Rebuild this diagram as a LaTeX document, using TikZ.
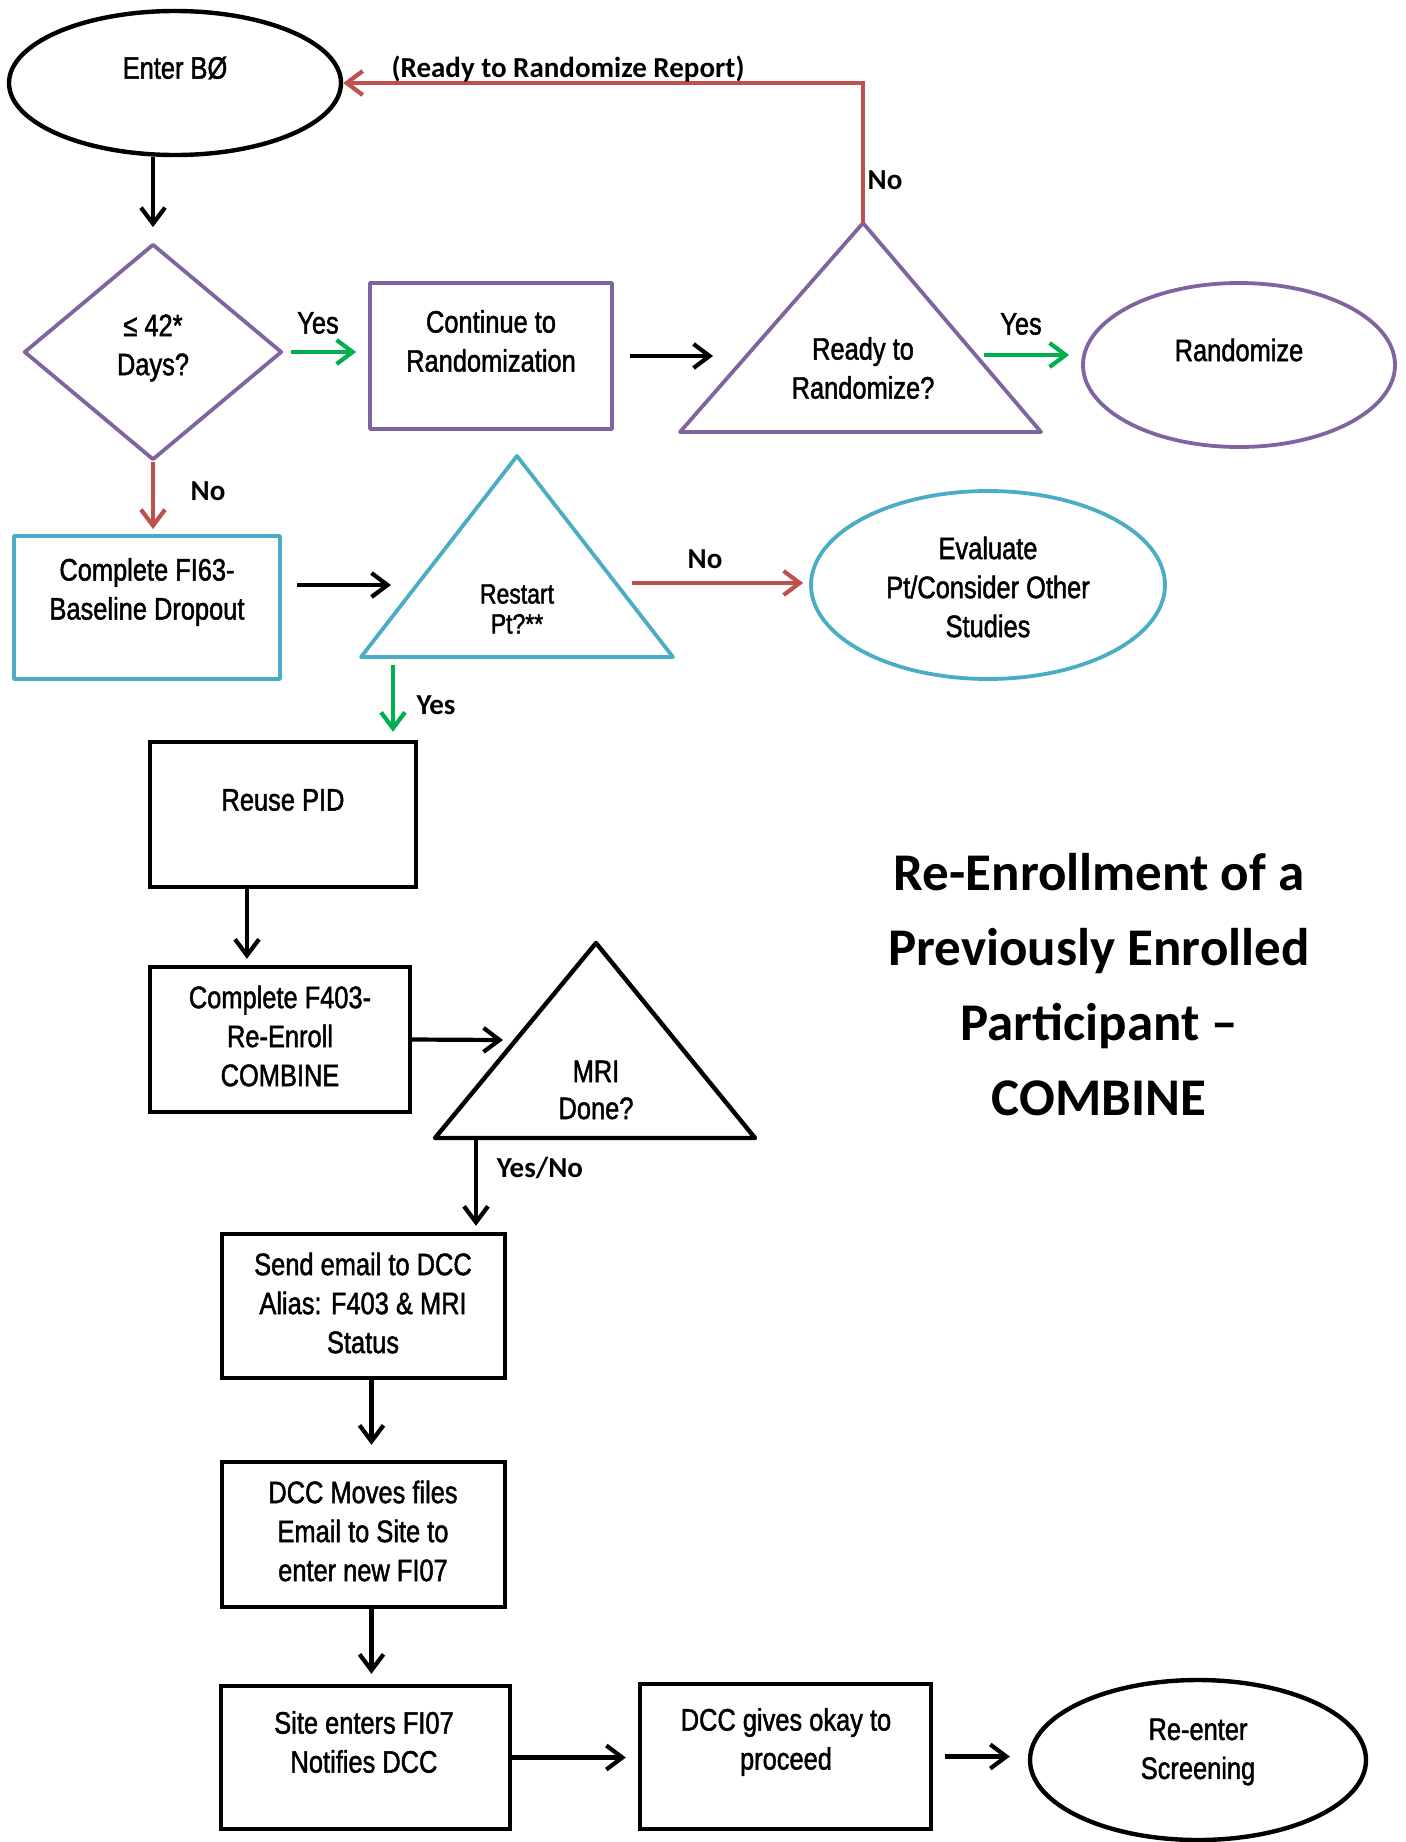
\documentclass[tikz,border=0pt]{standalone}
\usepackage{fontspec}
\setmainfont{Liberation Sans}[FakeStretch=0.82,FakeBold=1.5]
\newfontfamily\lblfont{Carlito}
\usetikzlibrary{shapes.geometric,arrows.meta}
\begin{document}
\begin{tikzpicture}[x=0.5pt,y=-0.5pt,
  blk/.style={draw=black,line width=2.2pt,inner sep=0pt},
  pur/.style={draw=purp,line width=1.9pt,inner sep=0pt,line join=round},
  cyn/.style={draw=cyanedge,line width=1.9pt,inner sep=0pt,line join=round},
  txt/.style={align=center,font=\fontsize{15.5}{19.5}\selectfont},
  lbl/.style={font=\lblfont\bfseries\fontsize{14.5}{16}\selectfont},
  arr/.style={draw=black,line width=2.1pt,-{Straight Barb[length=8pt,width=12pt]}},
  rarr/.style={arr,draw=redarr},
  garr/.style={arr,draw=grnarr}]
  \definecolor{purp}{HTML}{8064A2}
  \definecolor{cyanedge}{HTML}{4BACC6}
  \definecolor{redarr}{HTML}{C0504D}
  \definecolor{grnarr}{HTML}{00B050}
  \useasboundingbox (0,0) rectangle (1406,1842);
  % top row
  \node[blk,ellipse,minimum width=166pt,minimum height=72pt] (enter) at (175,83) {};
  \node[txt] (entertxt) at (175,68) {Enter BØ};
  \node[pur,diamond,minimum width=129pt,minimum height=108pt] (days) at (153,352) {};
  \node[txt] (daystxt) at (153,348) {≤ 42*\\Days?};
  \node[pur,minimum width=121pt,minimum height=73pt] (cont) at (491,356) {};
  \node[txt] (conttxt) at (491,341) {Continue to\\Randomization};
  \draw[pur] (863,223) -- (1041,432) -- (680,432) -- cycle;
  \node[txt] (readytxt) at (863,368) {Ready to\\Randomize?};
  \coordinate (readytop) at (863,223);
  \coordinate (readyin) at (713,356);
  \coordinate (readyout) at (984,355);
  \node[pur,ellipse,minimum width=156pt,minimum height=82pt] (rand) at (1239,365) {};
  \node[txt] (randtxt) at (1239,350) {Randomize};
  % dropout row
  \node[cyn,minimum width=133pt,minimum height=71.5pt] (drop) at (147,607.5) {};
  \node[txt] (droptxt) at (147,592) {Complete FI63-\\Baseline Dropout};
  \draw[cyn] (517,456) -- (673,657) -- (361,657) -- cycle;
  \node[align=center,font=\fontsize{14}{15}\selectfont] (restarttxt) at (517,609) {Restart\\Pt?**};
  \coordinate (restartin) at (391,585);
  \coordinate (restartout) at (632,583);
  \coordinate (restartdown) at (393,665);
  \node[cyn,ellipse,minimum width=177pt,minimum height=94pt] (eval) at (988,585) {};
  \node[txt] (evaltxt) at (988,587) {Evaluate\\Pt/Consider Other\\Studies};
  % re-enrollment column
  \node[blk,minimum width=133pt,minimum height=72.5pt] (reuse) at (283,814.5) {};
  \node[txt] (reusetxt) at (283,800) {Reuse PID};
  \node[blk,minimum width=130pt,minimum height=72.5pt] (reenroll) at (280,1039.5) {};
  \node[txt] (reenrolltxt) at (280,1036) {Complete F403-\\Re-Enroll\\COMBINE};
  \draw[blk,line join=round] (596,943) -- (755,1138) -- (435,1138) -- cycle;
  \node[txt,font=\fontsize{15.5}{18.5}\selectfont] (mritxt) at (596,1090) {MRI\\Done?};
  \coordinate (mriin) at (503,1040);
  \coordinate (mridown) at (476,1139);
  \node[blk,minimum width=141.5pt,minimum height=72pt] (email) at (363.5,1306) {};
  \node[txt] (emailtxt) at (363,1303) {Send email to DCC\\Alias: F403 \& MRI\\Status};
  \node[blk,minimum width=141.5pt,minimum height=72.5pt] (moves) at (363.5,1534.5) {};
  \node[txt] (movestxt) at (363,1531) {DCC Moves files\\Email to Site to\\enter new FI07};
  \node[blk,minimum width=144.5pt,minimum height=71.5pt] (site) at (365.5,1757.5) {};
  \node[txt] (sitetxt) at (364,1742) {Site enters FI07\\Notifies DCC};
  \node[blk,minimum width=145.5pt,minimum height=72.5pt] (okay) at (785.5,1756.5) {};
  \node[txt] (okaytxt) at (786,1742) {DCC gives okay to\\proceed};
  \node[blk,ellipse,minimum width=168pt,minimum height=80pt] (screen) at (1198,1760) {};
  \node[txt] (screentxt) at (1198,1752) {Re-enter\\Screening};
  % title
  \node[align=center,font=\lblfont\bfseries\fontsize{26.5}{37.5}\selectfont] (title) at (1099,985)
    {Re-Enrollment of a\\Previously Enrolled\\Participant –\\COMBINE};
  % connectors
  \draw[arr,shorten >=7.5pt] (enter.south -| days.north) -- (days.north);
  \draw[garr,shorten <=3.5pt,shorten >=6pt] (days.east) -- (days.east -| cont.west);
  \node[txt] (yes1) at (318,323) {Yes};
  \draw[arr,shorten <=8pt] (cont.east) -- (readyin);
  \draw[rarr] (readytop) |- (enter.east);
  \node[lbl] (reportlbl) at (568,69) {(Ready to Randomize Report)};
  \node[lbl] (no1) at (885,180) {No};
  \draw[garr,shorten >=6pt] (readyout) -- (readyout -| rand.west);
  \node[txt] (yes2) at (1021,324) {Yes};
  \draw[rarr,shorten >=2.5pt] (days.south) -- (days.south |- drop.north);
  \node[lbl] (no2) at (208,491) {No};
  \draw[arr,shorten <=7.5pt] (drop.east |- restartin) -- (restartin);
  \draw[rarr,shorten >=3pt] (restartout) -- (restartout -| eval.west);
  \node[lbl] (no3) at (705,559) {No};
  \draw[garr,shorten >=4pt] (restartdown) -- (restartdown |- reuse.north);
  \node[lbl] (yes3) at (436,705) {Yes};
  \draw[arr,shorten >=3pt] ([xshift=-18pt]reuse.south) -- ([xshift=-18pt]reuse.south |- reenroll.north);
  \draw[arr] (reenroll.east) -- (mriin);
  \draw[arr,shorten >=3pt] (mridown) -- (mridown |- email.north);
  \node[lbl] (yesno) at (540,1168) {Yes/No};
  \draw[arr,shorten >=7.5pt] ([xshift=4pt]email.south) -- ([xshift=4pt]email.south |- moves.north);
  \draw[arr,shorten >=5pt] ([xshift=4pt]moves.south) -- ([xshift=4pt]moves.south |- site.north);
  \draw[arr,shorten >=6pt] (site.east) -- (site.east -| okay.west);
  \draw[arr,shorten <=6pt,shorten >=9pt] (okay.east) -- (okay.east -| screen.west);
\end{tikzpicture}
\end{document}
